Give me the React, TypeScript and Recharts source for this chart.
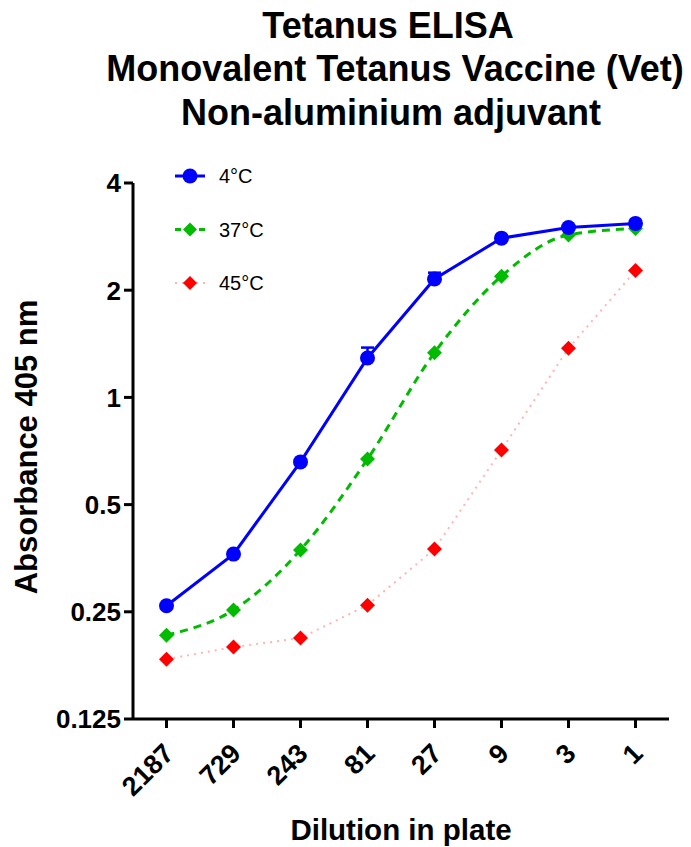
import { ErrorBar, Line, LineChart, XAxis, YAxis } from "recharts";

const dilutions = ["2187", "729", "243", "81", "27", "9", "3", "1"];
const temp4 = [0.26, 0.363, 0.659, 1.29, 2.15, 2.8, 3.0, 3.08];
const temp4ErrUp = [0, 0, 0, 0.09, 0.09, 0, 0, 0];
const temp37 = [0.215, 0.253, 0.373, 0.671, 1.335, 2.19, 2.86, 2.98];
const temp45 = [0.184, 0.199, 0.211, 0.261, 0.375, 0.712, 1.374, 2.27];
const yTicks = [0.125, 0.25, 0.5, 1, 2, 4];

const font = "'Liberation Sans', Arial, Helvetica, sans-serif";
const blue = "#0000ff";
const green = "#00bb00";
const red = "#ff0000";
const pink = "#ffb4b4";

const data = dilutions.map((d, i) => ({
  dilution: d,
  t4: temp4[i],
  t4err: [0, temp4ErrUp[i]],
  t37: temp37[i],
  t45: temp45[i],
}));

function Diamond({ cx, cy, fill, size = 7.5 }: { cx?: number; cy?: number; fill: string; size?: number }) {
  if (cx == null || cy == null) return null;
  return (
    <polygon
      points={`${cx},${cy - size} ${cx + size},${cy} ${cx},${cy + size} ${cx - size},${cy}`}
      fill={fill}
    />
  );
}

function XTick({ x, y, payload }: { x?: number; y?: number; payload?: { value: string } }) {
  return (
    <g transform={`translate(${x},${y})`}>
      <text
        x={0}
        y={0}
        transform="translate(9,25) rotate(-45)"
        textAnchor="end"
        fill="#000"
        fontSize={27}
        style={{ fontSize: "27px", fontWeight: 700, fontFamily: font }}
      >
        {payload?.value}
      </text>
    </g>
  );
}

function YTick({ x, y, payload }: { x?: number; y?: number; payload?: { value: number } }) {
  return (
    <text
      x={x}
      y={y}
      dy={9.3}
      textAnchor="end"
      fill="#000"
      fontSize={26}
      style={{ fontSize: "26px", fontWeight: 700, fontFamily: font }}
    >
      {String(payload?.value)}
    </text>
  );
}

const legendItems = [
  { label: "4°C", color: blue, kind: "circle", dash: undefined as string | undefined, lineColor: blue, width: 3 },
  { label: "37°C", color: green, kind: "diamond", dash: "6 6", lineColor: green, width: 3 },
  { label: "45°C", color: red, kind: "diamond", dash: "2 5", lineColor: pink, width: 2 },
];

export default function App() {
  return (
    <div style={{ position: "absolute", left: 0, top: 0, width: 691, height: 847, background: "#fff" }}>
      <LineChart
        width={691}
        height={847}
        data={data}
        margin={{ top: 183, right: 22, bottom: 68, left: 33 }}
      >
        <XAxis
          dataKey="dilution"
          type="category"
          padding={{ left: 33.5, right: 33.5 }}
          height={60}
          axisLine={{ stroke: "#000", strokeWidth: 3 }}
          tickLine={{ stroke: "#000", strokeWidth: 3 }}
          tickSize={9}
          tick={<XTick />}
          interval={0}
        />
        <YAxis
          type="number"
          scale="log"
          domain={[0.125, 4]}
          ticks={yTicks}
          allowDataOverflow
          width={100}
          axisLine={{ stroke: "#000", strokeWidth: 3 }}
          tickLine={{ stroke: "#000", strokeWidth: 3 }}
          tickSize={9}
          tickMargin={3}
          tick={<YTick />}
          interval={0}
        />
        <Line
          dataKey="t45"
          type="linear"
          stroke={pink}
          strokeWidth={2}
          strokeDasharray="2 5"
          dot={(p: any) => <Diamond key={`d45-${p.index}`} cx={p.cx} cy={p.cy} fill={red} />}
          isAnimationActive={false}
        />
        <Line
          dataKey="t37"
          type="monotone"
          stroke={green}
          strokeWidth={3}
          strokeDasharray="8 6"
          dot={(p: any) => <Diamond key={`d37-${p.index}`} cx={p.cx} cy={p.cy} fill={green} />}
          isAnimationActive={false}
        />
        <Line
          dataKey="t4"
          type="linear"
          stroke={blue}
          strokeWidth={3}
          dot={{ r: 7.5, fill: blue, stroke: blue, strokeWidth: 0 }}
          isAnimationActive={false}
        >
          <ErrorBar dataKey="t4err" width={6.5} stroke={blue} strokeWidth={2.5} direction="y" />
        </Line>
      </LineChart>
      <svg
        width={691}
        height={847}
        style={{ position: "absolute", left: 0, top: 0, pointerEvents: "none" }}
        fontFamily={font}
      >
        <g fontSize={36} fontWeight="bold" textAnchor="middle" fill="#000">
          <text x={388} y={38}>Tetanus ELISA</text>
          <text x={395} y={81}>Monovalent Tetanus Vaccine (Vet)</text>
          <text x={391} y={125}>Non-aluminium adjuvant</text>
        </g>
        <text
          x={37}
          y={447}
          transform="rotate(-90 37 447)"
          textAnchor="middle"
          fontSize={31}
          fontWeight="bold"
          fill="#000"
        >
          Absorbance 405 nm
        </text>
        <text x={401} y={840} textAnchor="middle" fontSize={29.5} fontWeight="bold" fill="#000">
          Dilution in plate
        </text>
        {legendItems.map((item, i) => {
          const y = 176 + i * 53.5;
          return (
            <g key={item.label}>
              <line
                x1={175}
                x2={205}
                y1={y}
                y2={y}
                stroke={item.lineColor}
                strokeWidth={item.width}
                strokeDasharray={item.dash}
              />
              {item.kind === "circle" ? (
                <circle cx={190} cy={y} r={7.5} fill={item.color} />
              ) : (
                <Diamond cx={190} cy={y} fill={item.color} size={7} />
              )}
              <text x={219} y={y + 7} fontSize={20} fill="#000">
                {item.label}
              </text>
            </g>
          );
        })}
      </svg>
    </div>
  );
}
